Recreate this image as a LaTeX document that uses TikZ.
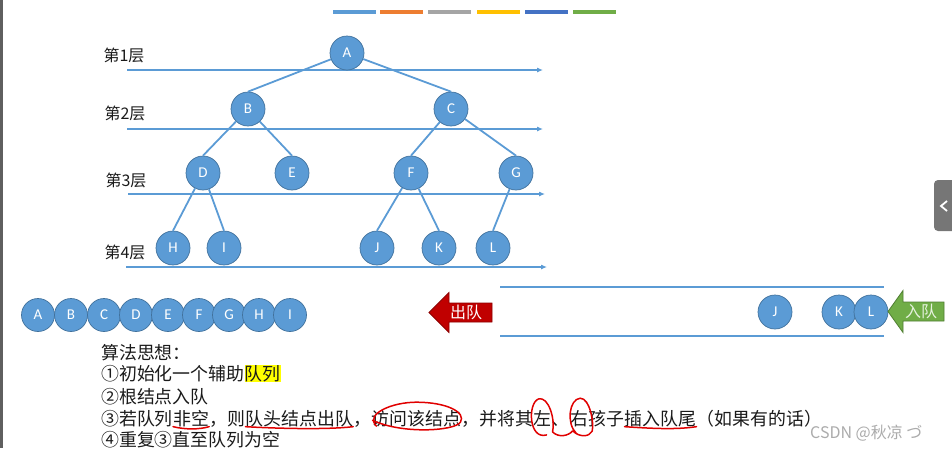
\documentclass[tikz,border=0pt]{standalone}
\usepackage{fontspec}
\usepackage{tikz}
\usetikzlibrary{arrows.meta}
\newfontfamily\cjk{Noto Sans CJK SC}
\newfontfamily\lat{Carlito}
\definecolor{nodeblue}{HTML}{5B9BD5}
\definecolor{nodeedge}{HTML}{41719C}
\definecolor{lineblue}{HTML}{5B9BD5}
\definecolor{outred}{HTML}{C00000}
\definecolor{outredd}{HTML}{8C0000}
\definecolor{ingreen}{HTML}{70AD47}
\definecolor{ingreend}{HTML}{507E32}
\definecolor{inlight}{HTML}{E6F2DE}
\definecolor{penred}{HTML}{E00000}
\definecolor{hlyellow}{HTML}{FFFF00}
\definecolor{wmgray}{HTML}{ABABAB}
\definecolor{tabgray}{HTML}{767676}
\definecolor{edgebar}{HTML}{5F5F5F}
\definecolor{txt}{HTML}{1A1A1A}
\definecolor{barA}{HTML}{5B9BD5}
\definecolor{barB}{HTML}{ED7D31}
\definecolor{barC}{HTML}{A5A5A5}
\definecolor{barD}{HTML}{FFC000}
\definecolor{barE}{HTML}{4472C4}
\definecolor{barF}{HTML}{70AD47}

\begin{document}
\begin{tikzpicture}[x=1pt,y=-1pt,
  nd/.style={circle,fill=nodeblue,draw=nodeedge,line width=0.7pt,minimum size=34pt,inner sep=0pt,text=white,font=\lat\fontsize{15}{15}\selectfont},
  qd/.style={nd,minimum size=33pt},
  edge/.style={draw=lineblue,line width=1.8pt},
  lv/.style={font=\cjk\fontsize{16}{16}\selectfont,text=txt,inner sep=0pt},
  lvline/.style={-{Latex[length=6pt,width=5pt]},draw=lineblue,line width=1.1pt},
  rail/.style={draw=lineblue,line width=2.8pt},
  arrtxt/.style={font=\cjk\fontsize{16}{16}\selectfont,text=white,inner sep=0pt},
  alg/.style={font=\cjk\fontsize{17.9}{20}\selectfont,text=txt,inner sep=0pt,anchor=base west},
  redpen/.style={draw=penred,line width=1.5pt,line cap=round},
  wmtxt/.style={font=\cjk\fontsize{16}{16}\selectfont,text=wmgray,inner sep=0pt,anchor=west}]
\useasboundingbox (0,0) rectangle (952,448);
\fill[edgebar] (0,0) rectangle (3,448);
\foreach \c/\x in {barA/333,barB/380,barC/428,barD/477,barE/525,barF/573}
  \fill[\c] (\x,10) rectangle ++(43,4);
\node[lv] (l1) at (124,55) {第1层};
\node[lv] (l2) at (125,113) {第2层};
\node[lv] (l3) at (126,180) {第3层};
\node[lv] (l4) at (125,252) {第4层};
\foreach \i/\y/\xa/\xb in {1/70/127/543,2/129/127/543,3/194/128/545,4/267/126/547} {
  \coordinate (s\i) at (\xa,\y); \coordinate (e\i) at (\xb,\y);
  \draw[lvline] (s\i) -- (e\i);}
\node[nd] (A) at (347,53) {A};
\node[nd] (B) at (248,109) {B}; \node[nd] (C) at (451,109) {C};
\node[nd] (D) at (203,173) {D}; \node[nd] (E) at (292,173) {E};
\node[nd] (F) at (411,173) {F}; \node[nd] (G) at (516,173) {G};
\node[nd] (H) at (173,248) {H}; \node[nd] (I) at (224,248) {I};
\node[nd] (J) at (377,248) {J}; \node[nd] (K) at (439,248) {K};
\node[nd] (L) at (493,248) {L};
\foreach \p/\c in {A/B,A/C,B/D,B/E,C/F,C/G,D/H,D/I,F/J,F/K,G/L}
  \draw[edge] (\p) -- (\c.north);
\foreach \n/\x in {A/38,B/71,C/104,D/136,E/168,F/199,G/229,H/259,I/290}
  \node[qd] (q\n) at (\x,315) {\n};
\coordinate (rt1) at (500,287); \coordinate (rt2) at (884,287);
\coordinate (rb1) at (500,336); \coordinate (rb2) at (884,336);
\draw[rail] (rt1) -- (rt2); \draw[rail] (rb1) -- (rb2);
\node[nd] (wJ) at (775,312) {J};
\node[nd] (wK) at (839,312) {K}; \node[nd] (wL) at (871,312) {L};
\filldraw[fill=outred,draw=outredd,line width=0.8pt] (429,312.5) -- (449,292.5) -- (449,303) -- (492,303) -- (492,322) -- (449,322) -- (449,332.5) -- cycle;
\node[arrtxt] (deq) at (466,312.5) {出队};
\filldraw[fill=ingreen,draw=ingreend,line width=0.8pt] (888,311.5) -- (903,290.5) -- (903,302) -- (944,302) -- (944,321) -- (903,321) -- (903,332.5) -- cycle;
\node[arrtxt,text=inlight] (enq) at (921,311.5) {入队};
\node[alg] (t0) at (101,359.5) {算法思想：};
\node[alg] (t1) at (101,380.5) {①初始化一个辅助};
\node[alg,fill=hlyellow] (t1a) at (t1.base east) {队列};
\node[alg] (t2) at (101,403) {②根结点入队};
\node[alg] (t3) at (101,425) {③若队列}; \node[alg] (t3a) at (t3.base east) {非空};
\node[alg] (t3b) at (t3a.base east) {，则}; \node[alg] (t3c) at (t3b.base east) {队头结点出队};
\node[alg] (t3d) at (t3c.base east) {，}; \node[alg] (t3e) at (t3d.base east) {访问该结点};
\node[alg] (t3f) at (t3e.base east) {，并将其}; \node[alg] (t3g) at (t3f.base east) {左};
\node[alg] (t3h) at (t3g.base east) {、}; \node[alg] (t3i) at (t3h.base east) {右};
\node[alg] (t3j) at (t3i.base east) {孩子}; \node[alg] (t3k) at (t3j.base east) {插入队尾};
\node[alg] (t3l) at (t3k.base east) {（如果有的话）};
\node[alg] (t4) at (101,446.5) {④重复③直至队列为空};
\draw[redpen] (t3a.south west) .. controls +(12,3) and +(-10,3) .. (t3a.south east);
\draw[redpen] (t3c.south west) .. controls +(35,2) and +(-25,3) .. (t3c.south east);
\draw[redpen] (t3k.south west) .. controls +(30,2) and +(-20,3) .. (t3k.south east);
\begin{scope}[shift={(t3e.center)}]
\draw[redpen] (-40,8) .. controls (-52,-4) and (-25,-16) .. (0,-16) .. controls (30,-16) and (50,-6) .. (44,4) .. controls (38,13) and (-15,16) .. (-44,2);
\end{scope}
\begin{scope}[shift={(t3g.center)}]
\draw[redpen] (4,17) .. controls (-14,22) and (-15,-15) .. (-4,-19) .. controls (6,-22) and (13,2) .. (10,14) .. controls (16,20) and (26,18) .. (30,13);
\end{scope}
\begin{scope}[shift={(t3i.center)}]
\draw[redpen] (-3,15) .. controls (-13,5) and (-10,-19) .. (1,-20) .. controls (11,-20) and (15,5) .. (13,13) .. controls (10,19) and (0,19) .. (-6,13);
\end{scope}
\node[wmtxt] (wmk) at (810,433) {CSDN @秋凉 づ};
\fill[tabgray,rounded corners=4pt] (952,180) -- (934,180) -- (934,231) -- (952,231);
\draw[white,line width=1.8pt] (947,201) -- (941,206) -- (947,211);
\end{tikzpicture}
\end{document}
